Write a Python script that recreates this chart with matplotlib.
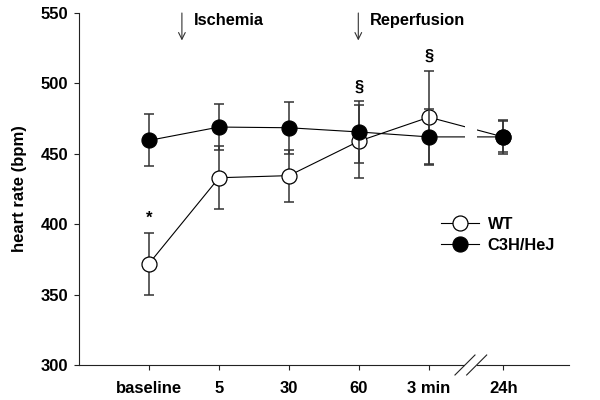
import matplotlib
matplotlib.use("Agg")
import matplotlib.pyplot as plt
from matplotlib.patches import Rectangle
import numpy as np

plt.rcParams['font.family'] = ['Liberation Sans', 'DejaVu Sans']
plt.rcParams['font.weight'] = 'bold'
plt.rcParams['font.size'] = 12

# time points (24h sits a bit further right, after the axis break)
tick_labels = ['baseline', '5', '30', '60', '3 min', '24h']
x_pos = [1, 2, 3, 4, 5, 6.06]

wt_mean = [372, 433, 434.5, 459, 476, 462]
wt_err = [22, 22.5, 18.5, 26, 33, 12]

c3h_mean = [459.5, 469, 468.5, 465.5, 462, 462]
c3h_err = [18.5, 16.5, 18.5, 22, 20, 11]

marks = [(1, 404, '*'), (4, 497, '§'), (5, 519, '§')]
arrows = [(1.47, 'Ischemia'), (3.99, 'Reperfusion')]

fig = plt.figure(figsize=(6, 4), dpi=100)
ax = fig.add_axes([79 / 600, 35 / 400, 490 / 600, 352 / 400])

bar_col = '#333333'
# WT
ax.errorbar(x_pos, wt_mean, yerr=wt_err, fmt='none', ecolor=bar_col,
            elinewidth=1.1, capsize=3.6, capthick=1.1, zorder=2)
ax.plot(x_pos, wt_mean, '-o', color='black', lw=0.8, ms=10.8,
        mfc='white', mec='black', mew=0.9, zorder=3, label='WT')
# C3H/HeJ
ax.errorbar(x_pos, c3h_mean, yerr=c3h_err, fmt='none', ecolor=bar_col,
            elinewidth=1.1, capsize=3.6, capthick=1.1, zorder=4)
ax.plot(x_pos, c3h_mean, '-o', color='black', lw=0.8, ms=10.8,
        mfc='black', mec='black', mew=0.9, zorder=5, label='C3H/HeJ')

ax.set_xlim(0, 7)
ax.set_ylim(300, 550)
ax.set_yticks(np.arange(300, 551, 50))
ax.set_xticks(x_pos)
ax.set_xticklabels(tick_labels)
ax.set_ylabel('heart rate (bpm)', fontweight='bold', fontsize=12, labelpad=10)

for s in ['top', 'right']:
    ax.spines[s].set_visible(False)
for s in ['left', 'bottom']:
    ax.spines[s].set_linewidth(0.8)
    ax.spines[s].set_color('#222222')
ax.tick_params(axis='both', direction='out', length=3.6, width=0.8, color='#222222')
ax.tick_params(axis='y', pad=4)
ax.tick_params(axis='x', pad=8)

# axis break: white gap and two slashes
gap = Rectangle((5.515, 296), 0.17, 254, facecolor='white', edgecolor='none',
                zorder=6, clip_on=False)
ax.add_patch(gap)
for dx in [0, 0.167]:
    ax.plot([5.371 + dx, 5.657 + dx], [292.9, 307.1], color='#222222',
            lw=0.8, zorder=7, clip_on=False)

# significance marks
for x, y, s in marks:
    ax.text(x, y, s, ha='center', va='center', fontsize=12, fontweight='bold')

# arrows with labels
for x, label in arrows:
    ax.annotate('', xy=(x, 530.5), xytext=(x, 550),
                arrowprops=dict(arrowstyle='->', color='#333333', lw=0.8,
                                shrinkA=0, shrinkB=0),
                annotation_clip=False)
    ax.text(x + 0.17, 545, label, ha='left', va='center', fontsize=11.8,
            fontweight='bold')

leg = ax.legend(loc='upper left', bbox_to_anchor=(441 / 600, 1 - 217 / 400),
                bbox_transform=fig.transFigure, frameon=False, borderpad=0,
                borderaxespad=0, handlelength=2.3, handletextpad=0.55,
                labelspacing=0.35, prop={'weight': 'bold', 'size': 11.8})
leg.set_zorder(10)

fig.savefig('out.png', dpi=100)
